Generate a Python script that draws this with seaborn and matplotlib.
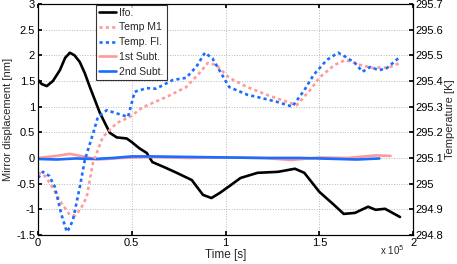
import numpy as np
import pandas as pd
import seaborn as sns
import matplotlib
matplotlib.use("Agg")
import matplotlib.pyplot as plt
from matplotlib.ticker import FuncFormatter

# ---- data (time in units of 1e5 s) ----
t_ifo = [0, 0.02, 0.047, 0.08, 0.117, 0.145, 0.17, 0.195, 0.223, 0.25, 0.277, 0.33, 0.383, 0.42,
         0.473, 0.5, 0.54, 0.58, 0.61, 0.68, 0.74, 0.82, 0.88, 0.925, 0.97, 1.02, 1.08, 1.17,
         1.28, 1.37, 1.42, 1.5, 1.58, 1.63, 1.69, 1.76, 1.80, 1.85, 1.93]
d_ifo = [1.52, 1.44, 1.40, 1.50, 1.71, 1.95, 2.05, 2.00, 1.87, 1.65, 1.38, 0.88, 0.49, 0.40,
         0.38, 0.31, 0.19, 0.097, -0.08, -0.19, -0.29, -0.43, -0.72, -0.78, -0.68, -0.55, -0.39, -0.29,
         -0.27, -0.21, -0.29, -0.66, -0.92, -1.09, -1.07, -0.95, -1.01, -0.99, -1.15]

t_m1 = [0, 0.03, 0.064, 0.12, 0.17, 0.2, 0.23, 0.26, 0.293, 0.346, 0.42, 0.49, 0.56, 0.686,
        0.79, 0.86, 0.905, 0.95, 1.02, 1.117, 1.22, 1.346, 1.38, 1.45, 1.505, 1.58, 1.64,
        1.72, 1.79, 1.835, 1.86, 1.93]
T_m1 = [295.042, 295.036, 295.002, 294.93, 294.878, 294.876, 294.905, 294.948, 295.08, 295.182,
        295.236, 295.26, 295.298, 295.338, 295.376, 295.43, 295.47, 295.462, 295.412, 295.376,
        295.346, 295.314, 295.306, 295.364, 295.416, 295.462, 295.482, 295.462, 295.45, 295.454,
        295.45, 295.47]

t_fl = [0, 0.027, 0.06, 0.09, 0.125, 0.154, 0.17, 0.187, 0.223, 0.25, 0.30, 0.32, 0.367, 0.41,
        0.48, 0.516, 0.58, 0.63, 0.72, 0.79, 0.845, 0.89, 0.93, 1.02, 1.117, 1.19, 1.277, 1.356,
        1.42, 1.47, 1.54, 1.6, 1.64, 1.69, 1.73, 1.77, 1.82, 1.86, 1.93]
T_fl = [295.022, 295.046, 295.03, 294.988, 294.88, 294.812, 294.83, 294.86, 294.986, 295.092,
        295.21, 295.26, 295.286, 295.276, 295.26, 295.358, 295.372, 295.37, 295.404, 295.412,
        295.456, 295.51, 295.488, 295.376, 295.346, 295.334, 295.318, 295.3, 295.364, 295.424,
        295.482, 295.51, 295.494, 295.47, 295.436, 295.454, 295.442, 295.45, 295.494]

t_s1 = [0, 0.1, 0.17, 0.24, 0.32, 0.45, 0.6, 0.8, 1.0, 1.2, 1.35, 1.5, 1.65, 1.8, 1.88]
d_s1 = [0.0, 0.04, 0.08, 0.03, -0.03, 0.0, 0.02, 0.0, 0.01, 0.0, -0.04, 0.01, 0.0, 0.05, 0.04]

t_s2 = [0, 0.1, 0.2, 0.3, 0.4, 0.5, 0.6, 0.8, 1.0, 1.2, 1.4, 1.6, 1.7, 1.82]
d_s2 = [-0.02, -0.03, -0.01, -0.02, 0.0, 0.03, 0.03, 0.02, 0.01, 0.0, 0.0, -0.02, -0.03, -0.01]

labels = ["Ifo.", "Temp M1", "Temp. Fl.", "1st Subt.", "2nd Subt."]
SCALE = 1e5

PINK = "#ff9a9a"
BLUE = "#1a6dff"
DOT = (0, (1.2, 1.2))

sns.set_theme(style="white")
plt.rcParams["font.family"] = ["Liberation Sans", "DejaVu Sans"]
plt.rcParams["font.size"] = 8

fig = plt.figure(figsize=(4.57, 2.64), dpi=100)
ax = fig.add_axes([0.083, 0.11, 0.821, 0.875])
ax2 = ax.twinx()

def df(t, v):
    return pd.DataFrame({"t": np.array(t) * SCALE, "v": v})

LW = 1.9
sns.lineplot(data=df(t_ifo, d_ifo), x="t", y="v", ax=ax, color="black", lw=LW, label=labels[0], legend=False)
sns.lineplot(data=df(t_s1, d_s1), x="t", y="v", ax=ax, color=PINK, lw=LW, label=labels[3], legend=False)
sns.lineplot(data=df(t_s2, d_s2), x="t", y="v", ax=ax, color=BLUE, lw=LW, label=labels[4], legend=False)
sns.lineplot(data=df(t_m1, T_m1), x="t", y="v", ax=ax2, color=PINK, lw=LW, ls=DOT, label=labels[1], legend=False)
sns.lineplot(data=df(t_fl, T_fl), x="t", y="v", ax=ax2, color=BLUE, lw=LW, ls=DOT, label=labels[2], legend=False)

ax.set_xlim(0, 2 * SCALE)
ax.set_ylim(-1.5, 3)
ax2.set_ylim(294.8, 295.7)
ax.set_xticks(np.arange(0, 2.01, 0.5) * SCALE)
yt = np.arange(-1.5, 3.01, 0.5)
ax.set_yticks(yt)
ax.set_yticklabels([f"{v:g}" for v in yt])
yt2 = np.round(np.arange(294.8, 295.71, 0.1), 1)
ax2.set_yticks(yt2)
ax2.set_yticklabels([f"{v:g}" for v in yt2])

ax.xaxis.set_major_formatter(FuncFormatter(lambda v, p: f"{v / SCALE:g}"))
fig.text(0.884, 0.028, r"x 10$^{5}$", ha="right", va="bottom", fontsize=7)

ax.set_xlabel("Time [s]", fontsize=8.5, labelpad=1)
ax.set_ylabel("Mirror displacement [nm]", fontsize=8, labelpad=2)
ax2.set_ylabel("Temperature [K]", fontsize=8, labelpad=1)

ax.grid(True, color="#b8b8b8", ls=":", lw=0.7)
for a in (ax, ax2):
    a.tick_params(direction="in", length=3, labelsize=8, pad=2, colors="black")
    for s in a.spines.values():
        s.set_color("black")
        s.set_linewidth(0.8)
ax.tick_params(top=True, bottom=True, left=True, right=False)

h1, l1 = ax.get_legend_handles_labels()
h2, l2 = ax2.get_legend_handles_labels()
hd = dict(zip(l1 + l2, h1 + h2))
leg = ax2.legend([hd[l] for l in labels], labels, loc="upper left", bbox_to_anchor=(0.155, 0.997),
                 borderaxespad=0, fontsize=7.5, frameon=True, fancybox=False, handlelength=1.6,
                 labelspacing=0.45, borderpad=0.3, handletextpad=0.3)
leg.get_frame().set_edgecolor("black")
leg.get_frame().set_linewidth(0.8)

fig.savefig("out.png", dpi=100)
